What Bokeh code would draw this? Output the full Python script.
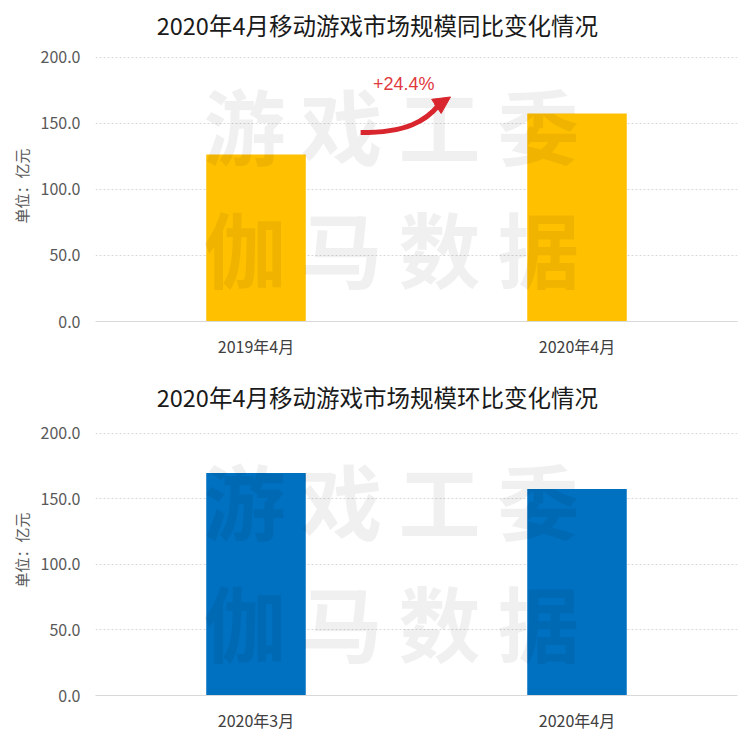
from bokeh.plotting import figure
from bokeh.models import (Range1d, FactorRange, FixedTicker, NumeralTickFormatter,
                          Arrow, NormalHead, ColumnDataSource, Title)
from bokeh.layouts import column
from bokeh.core.properties import value
from bokeh.embed import file_html
from bokeh.resources import INLINE

FONT = "Noto Sans CJK SC"

# ---- data ----
title_yoy = "2020年4月移动游戏市场规模同比变化情况"
title_mom = "2020年4月移动游戏市场规模环比变化情况"
yoy_months = ["2019年4月", "2020年4月"]
yoy_values = [126.5, 157.4]
mom_months = ["2020年3月", "2020年4月"]
mom_values = [169.5, 157.4]
yoy_growth_label = "+24.4%"
y_ticks = [0, 50, 100, 150, 200]
y_axis_label = "单位：亿元"
watermark_row1 = ["游", "戏", "工", "委"]
watermark_row2 = ["伽", "马", "数", "据"]

YELLOW = "#FFC000"
BLUE = "#0070C0"
RED = "#D9262E"


def make_chart(title, months, values, color, height, border_top, border_bottom,
               title_y, unit_offset):
    # y range extends above 200 so that the title sits inside the frame
    p = figure(x_range=FactorRange(*months), y_range=Range1d(0, 240),
               width=744, height=height, output_backend="svg",
               toolbar_location=None,
               min_border_left=95, min_border_right=7,
               min_border_top=border_top, min_border_bottom=border_bottom)
    p.outline_line_color = None
    p.background_fill_color = "white"

    # watermark (faint)
    wm_x = [0.464, 0.766, 1.072, 1.38]
    wm = ColumnDataSource(dict(
        x=wm_x + wm_x,
        y=[150] * 4 + [57] * 4,
        t=watermark_row1 + watermark_row2,
    ))

    src = ColumnDataSource(dict(x=months, top=values))
    p.vbar(x="x", top="top", width=0.31, source=src, fill_color=color, line_color=None)

    p.text(x="x", y="y", text="t", source=wm, text_font=value(FONT),
           text_font_size="82px", text_font_style="bold",
           text_align="center", text_baseline="middle",
           text_color="#000000", text_alpha=0.06)

    # title
    p.text(x=[0.878], y=[title_y], text=[title], text_font=value(FONT),
           text_font_size="23.5px", text_align="center", text_baseline="middle",
           text_color="#1a1a1a")

    p.xgrid.grid_line_color = None
    p.ygrid.grid_line_color = "#d9d9d9"
    p.ygrid.grid_line_dash = "2 2"
    p.ygrid.grid_line_width = 1

    p.yaxis.ticker = FixedTicker(ticks=y_ticks)
    p.yaxis.formatter = NumeralTickFormatter(format="0.0")
    p.yaxis.axis_line_color = None
    p.yaxis.major_tick_line_color = None
    p.yaxis.minor_tick_line_color = None
    p.yaxis.major_label_standoff = 9
    p.yaxis.major_label_text_font = FONT
    p.yaxis.major_label_text_font_size = "16px"
    p.yaxis.major_label_text_color = "#595959"

    # unit label, placed on the left next to the axis
    p.add_layout(Title(text=y_axis_label, align="left", offset=unit_offset,
                       text_font=FONT, text_font_size="15px",
                       text_font_style="normal", text_color="#595959",
                       standoff=12), "left")

    p.xaxis.axis_line_color = "#d9d9d9"
    p.xaxis.major_tick_line_color = None
    p.xaxis.minor_tick_line_color = None
    p.xaxis.major_label_standoff = 6
    p.xaxis.major_label_text_font = FONT
    p.xaxis.major_label_text_font_size = "16px"
    p.xaxis.major_label_text_color = "#404040"
    return p


p1 = make_chart(title_yoy, yoy_months, yoy_values, YELLOW, 372, 4, 51, 224.2, 98)

# growth arrow and label
p1.bezier(x0=[0.826], y0=[143.0], x1=[1.07], y1=[164.0],
          cx0=[0.97], cy0=[143.0], cx1=[1.03], cy1=[152.0],
          line_color=RED, line_width=5)
p1.add_layout(Arrow(end=NormalHead(size=17, fill_color=RED, line_color=RED),
                    x_start=1.06, y_start=162.5, x_end=1.106, y_end=170.0,
                    line_color=RED, line_width=6))
p1.text(x=[0.96], y=[180.0], text=[yoy_growth_label],
        text_font=value("Liberation Sans"), text_font_size="18px",
        text_align="center", text_baseline="middle", text_color="#E0393E")

p2 = make_chart(title_mom, mom_months, mom_values, BLUE, 362, 8, 38, 227.4, 108)

layout = column(p1, p2, spacing=0)
open("out.html", "w").write(file_html(layout, INLINE))
